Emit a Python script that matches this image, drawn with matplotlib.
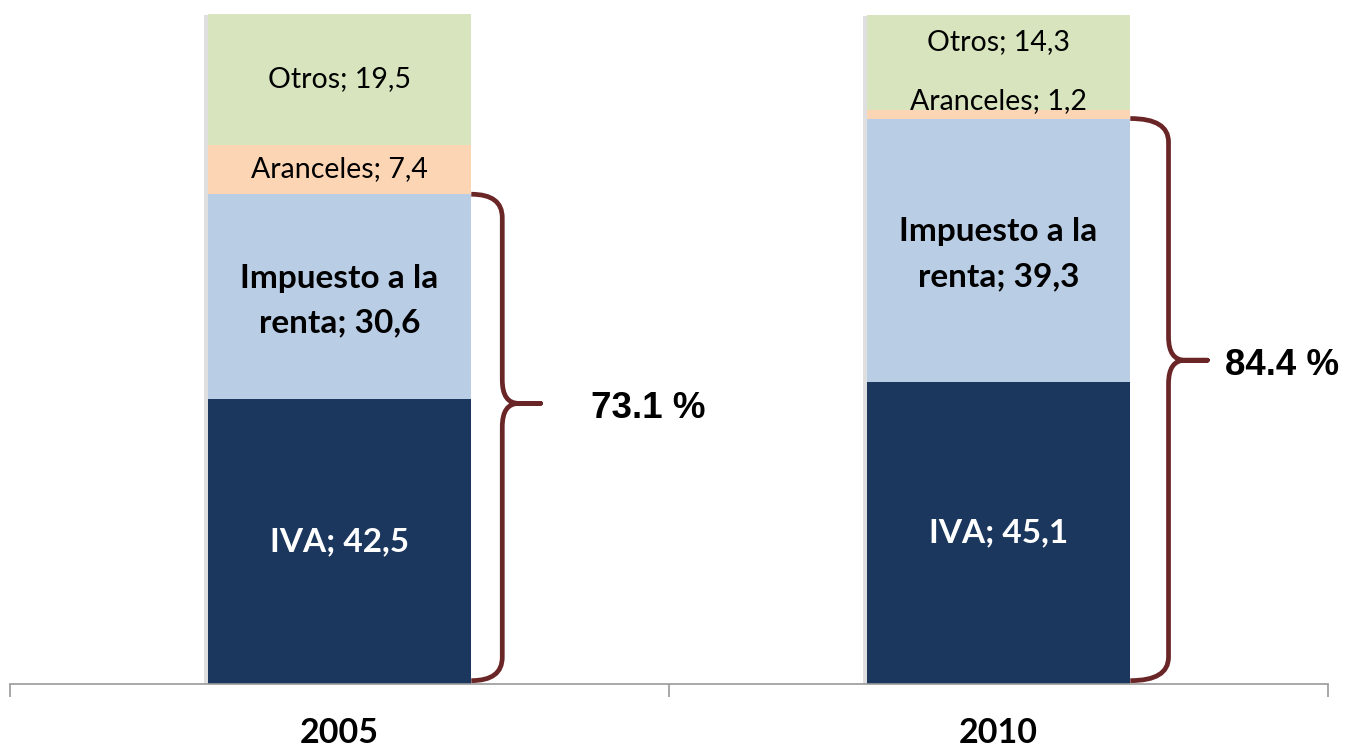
import numpy as np
import matplotlib.pyplot as plt
from matplotlib.path import Path
from matplotlib.patches import PathPatch
import matplotlib.patheffects as pe

years = ['2005', '2010']
categories = ['IVA', 'Impuesto a la\nrenta', 'Aranceles', 'Otros']
values = {
    'IVA': [42.5, 45.1],
    'Impuesto a la\nrenta': [30.6, 39.3],
    'Aranceles': [7.4, 1.2],
    'Otros': [19.5, 14.3],
}
totals_pct = ['73.1 %', '84.4 %']

colors = ['#1b375e', '#b9cde5', '#fcd5b5', '#d7e4bd']
brace_color = '#6a2527'

fig = plt.figure(figsize=(13.45, 7.47), dpi=100)
ax = fig.add_axes([10 / 1345, 63 / 747, 1318 / 1345, 670 / 747])
x = np.arange(len(years))
w = 0.40

# faint shadow behind the stacks
tot = np.sum([values[c] for c in categories], axis=0)
ax.bar(x, tot, w, color='white', zorder=1,
       path_effects=[pe.withSimplePatchShadow(offset=(-3, -1), shadow_rgbFace='gray', alpha=0.25)])

bottom = np.zeros(len(years))
for c, col in zip(categories, colors):
    v = np.array(values[c])
    ax.bar(x, v, w, bottom=bottom, color=col, zorder=2)
    for i in range(len(years)):
        lab = f"{c}; {str(v[i]).replace('.', ',')}"
        yc = bottom[i] + v[i] / 2
        bold = c in ('IVA', 'Impuesto a la\nrenta')
        if c == 'Aranceles' and v[i] < 3:
            yc = bottom[i] + v[i] + 1.4
        if c == 'Otros' and i == 1:
            yc = bottom[i] + v[i] / 2 + 3.0
        if c == 'Impuesto a la\nrenta':
            yc -= 0.6
        ax.text(x[i], yc, lab, ha='center', va='center',
                fontsize=24 if bold else 20.5, fontweight='bold' if bold else 'normal',
                family='Lato', color='white' if c == 'IVA' else 'black',
                linespacing=1.65, zorder=3)
    bottom += v


def brace(ax, xe, yb, yt, dx_v, dx_t, frac=0.57, r=3.5):
    xv = xe + dx_v
    xt = xe + dx_t
    ym = yb + (yt - yb) * frac
    d = 0.025
    verts = [(xe, yt), (xv, yt), (xv, yt - r), (xv, ym + r), (xv, ym), (xv + d, ym),
             (xt, ym), (xv + d, ym), (xv, ym), (xv, ym - r), (xv, yb + r), (xv, yb), (xe, yb)]
    codes = [Path.MOVETO, Path.CURVE3, Path.CURVE3, Path.LINETO, Path.CURVE3, Path.CURVE3,
             Path.LINETO, Path.LINETO, Path.CURVE3, Path.CURVE3, Path.LINETO, Path.CURVE3, Path.CURVE3]
    ax.add_patch(PathPatch(Path(verts, codes), fill=False, ec=brace_color, lw=3.4,
                           capstyle='butt', joinstyle='round', zorder=4))
    return xt, ym


brace_dx = [(0.047, 0.105), (0.058, 0.117)]
label_dx = [0.164, 0.114]
for i in range(len(years)):
    top = values['IVA'][i] + values['Impuesto a la\nrenta'][i]
    xt, ym = brace(ax, x[i] + w / 2, 0.5, top, *brace_dx[i])
    ax.text(xt + label_dx[i], ym - 0.8, totals_pct[i], ha='center', va='center',
            fontsize=26.5, fontweight='bold', family='Liberation Sans')

ax.set_xlim(-0.5, 1.5)
ax.set_ylim(0, 100)
ax.set_yticks([])
for s in ['left', 'right', 'top']:
    ax.spines[s].set_visible(False)
ax.spines['bottom'].set_color('#9a9a9a')
ax.spines['bottom'].set_linewidth(1.2)
ax.set_xticks([-0.5, 0.5, 1.5])
ax.set_xticklabels([])
ax.set_xticks(x, minor=True)
ax.set_xticklabels(years, minor=True, fontsize=24.5, fontweight='bold', family='Lato')
ax.tick_params(axis='x', which='major', length=9, width=1.2, color='#9a9a9a', direction='out')
ax.tick_params(axis='x', which='minor', length=0, pad=24)

fig.savefig('out.png', dpi=100)
